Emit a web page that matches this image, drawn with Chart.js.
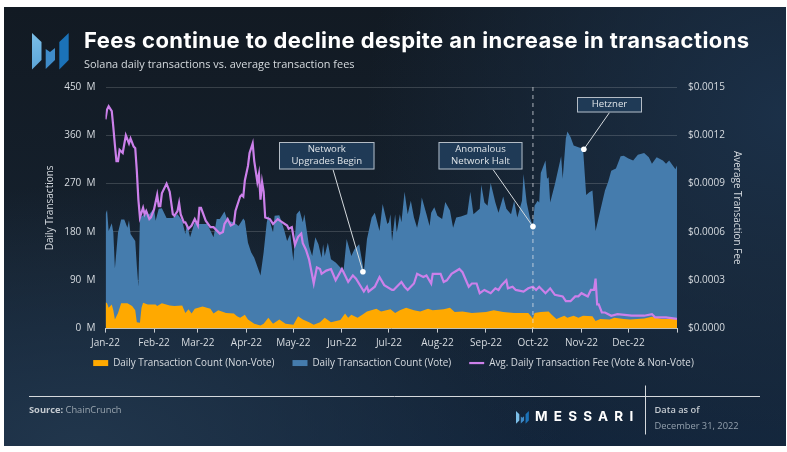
<!DOCTYPE html>
<html><head><meta charset="utf-8">
<script src="https://cdn.jsdelivr.net/npm/chart.js@4"></script>
<style>
html,body{margin:0;padding:0;background:#fff;width:787px;height:452px;overflow:hidden}
#panel{position:absolute;left:4px;top:7px;width:782px;height:439px;
background:radial-gradient(ellipse 480px 260px at 10% 100%,#21364c 0%,rgba(33,54,76,0) 100%),radial-gradient(ellipse 420px 420px at 100% 25%,#1b3048 0%,rgba(27,48,72,0) 100%),linear-gradient(180deg,#121a23 0%,#15212e 60%,#12243a 100%)}
#c{position:absolute;left:0;top:0;width:787px;height:452px}
.t{position:absolute;white-space:nowrap;font-family:"Open Sans",sans-serif}
</style></head><body>
<div id="panel"></div>
<canvas id="c" width="787" height="452"></canvas>
<div class="t" style="left:84px;top:27px;font:700 22px Inter,sans-serif;color:#fff;letter-spacing:.415px">Fees continue to decline despite an increase in transactions</div>
<div class="t" style="left:84px;top:56px;font-size:10.95px;color:#d5dade">Solana daily transactions vs. average transaction fees</div>
<div class="t" style="left:29px;top:403px;font-size:9.3px;color:#9aa5af"><b style="color:#c4cad0">Source:</b> ChainCrunch</div>
<div class="t" style="left:535px;top:408px;font:700 13.5px Inter,sans-serif;color:#fff;letter-spacing:6.2px">MESSARI</div>
<div class="t" style="left:654.5px;top:403px;font-size:9.3px;font-weight:600;color:#c4cad0">Data as of</div>
<div class="t" style="left:654.5px;top:419px;font-size:9.3px;color:#93a0ad">December 31, 2022</div>
<script>
const monthDays=[0,31,59,90,120,151,181,212,243,273,304,334];
const monthLabels=['Jan-22','Feb-22','Mar-22','Apr-22','May-22','Jun-22','Jul-22','Aug-22','Sep-22','Oct-22','Nov-22','Dec-22'];

const voteTopDays=[0,1,2,4,5,6,8,10,12,14,15,16,19,20,21,22,25,28,31,32,34,36,39,43,46,49,51,52,54,57,60,65,69,71,73,76,78,82,85,88,89,91,93,95,99,101,103,104,107,108,111,114,116,118,120,122,124,126,127,130,132,134,136,138,139,140,142,144,147,150,152,154,157,159,162,165,167,170,172,175,177,180,181,182,183,185,186,188,189,191,193,195,197,199,201,202,205,207,208,210,212,215,217,220,222,224,227,231,233,235,239,240,242,244,246,249,251,254,256,259,261,263,266,267,269,271,273,274,276,277,278,281,282,283,284,287,291,292,294,295,297,299,302,305,307,309,311,313,316,319,321,323,326,329,331,334,337,340,344,347,349,352,356,358,360,364,365];
const voteTopValues=[213,221,182,196,179,112,179,203,203,188,202,176,163,117,78,207,213,213,224,201,223,224,206,206,213,201,176,195,170,198,195,195,170,204,204,218,201,198,191,205,201,160,142,132,99,142,198,210,179,210,211,185,163,176,126,213,220,198,213,154,135,170,157,132,157,135,160,129,123,114,107,167,135,148,157,107,167,207,216,182,232,195,198,213,163,213,179,213,198,255,213,238,207,188,216,244,213,191,216,226,210,204,236,220,188,207,209,213,255,213,223,268,235,229,271,235,216,246,223,213,238,207,238,288,235,207,191,229,238,235,290,313,279,282,235,269,321,279,354,367,357,341,338,335,249,254,257,182,220,257,273,294,298,321,322,317,313,324,327,319,307,319,313,307,313,297,304];

const nonVoteDays=[0,1,2,4,5,6,8,10,14,17,19,20,22,23,24,27,32,33,36,41,44,49,51,53,55,57,62,67,69,72,77,82,84,86,89,91,95,99,101,104,107,111,115,120,123,126,130,133,137,140,144,150,153,155,157,161,164,167,173,176,182,185,188,192,197,201,206,209,216,220,223,228,234,243,248,254,261,270,273,274,278,283,285,288,293,295,299,302,305,311,313,316,322,325,331,335,344,349,355,365];
const nonVoteValues=[49,47,39,45,34,17,29,47,47,42,34,12,11,39,48,45,45,42,47,43,42,43,29,36,28,37,41,37,28,34,29,28,23,20,26,17,9,6,9,20,9,17,9,7,23,17,12,7,12,20,12,16,28,20,26,20,26,32,37,32,36,29,34,39,34,32,37,34,36,39,31,32,29,31,34,31,29,29,19,29,31,32,26,18,24,20,24,20,24,23,14,18,17,20,18,17,19,22,18,18];

const feeDays=[0,1,2,4,5,6,7,8,9,11,13,15,16,18,19,20,21,22,24,25,26,28,29,31,33,34,35,36,39,41,43,44,46,47,48,50,51,53,55,57,59,60,61,64,67,69,73,75,76,78,80,82,83,86,87,88,89,91,92,94,95,97,98,99,100,101,102,105,107,110,113,116,117,119,121,123,125,126,128,130,133,135,137,138,141,144,147,151,155,158,160,165,167,168,172,175,178,183,184,186,189,191,193,197,199,203,205,208,209,214,216,218,221,226,228,232,234,237,239,242,246,249,251,253,256,257,260,262,267,270,273,275,277,281,284,287,292,294,297,300,302,304,308,310,312,313,314,315,317,319,323,327,336,344,349,351,358,365];
const feeValues=[.00130,.00136,.00138,.00135,.00125,.00114,.00104,.00104,.00111,.00109,.00120,.00115,.00118,.00113,.00112,.00098,.00080,.00069,.00075,.00071,.00073,.00068,.00069,.00074,.00083,.00076,.00076,.00084,.00090,.00085,.00071,.00070,.00073,.00078,.00071,.00066,.00066,.00062,.00064,.00068,.00064,.00075,.00075,.00067,.00063,.00063,.00059,.00060,.00065,.00068,.00064,.00065,.00073,.00082,.00083,.00082,.00092,.00101,.00109,.00115,.00104,.00091,.00096,.00080,.00091,.00085,.00069,.00068,.00065,.00068,.00066,.00064,.00062,.00063,.00052,.00057,.00059,.00053,.00049,.00043,.00028,.00038,.00037,.00034,.00036,.00037,.00030,.00037,.00029,.00033,.00031,.00023,.00026,.00023,.00026,.00032,.00027,.00024,.00024,.00026,.00029,.00026,.00024,.00028,.00034,.00032,.00033,.00028,.00034,.00034,.00029,.00030,.00034,.00037,.00035,.00026,.00028,.00028,.00022,.00024,.00022,.00025,.00024,.00027,.00030,.00025,.00026,.00024,.00023,.00025,.00026,.00024,.00026,.00022,.00025,.00021,.00020,.00017,.00017,.00020,.00020,.00022,.00020,.00024,.00024,.00031,.00015,.00015,.00010,.00010,.00008,.00009,.00008,.00008,.00009,.00007,.00007,.00006];

const calloutDays=[164.4,273,305.5];
const calloutValues=[106,190,334];
const calloutLabels=[['Network','Upgrades Begin'],['Anomalous','Network Halt'],['Hetzner']];
const haltDay=273;

const zip=(xs,ys)=>xs.map((x,i)=>({x,y:ys[i]}));
const boxes=[{x:279,y:142,w:95.5,h:27.5,lx:333,ly:169.5},{x:438.5,y:142,w:84,h:27.5,lx:493,ly:169.5},{x:577,y:97,w:65,h:15.5,lx:609.5,ly:112.5}];

const poly=(ctx,pts,col)=>{ctx.beginPath();pts.forEach((p,i)=>i?ctx.lineTo(p[0],p[1]):ctx.moveTo(p[0],p[1]));ctx.closePath();ctx.fillStyle=col;ctx.fill();};
const logo=(ctx,x,y,s,cols)=>{
  const T=a=>a.map(p=>[x+p[0]*s,y+p[1]*s]);
  poly(ctx,T([[0,0],[9.5,9],[9.5,27],[0,36.5]]),cols[0]);
  poly(ctx,T([[13.7,16],[18,19],[23,15],[23,27],[13.7,36]]),cols[1]);
  poly(ctx,T([[27.3,9],[36.7,0],[36.7,27],[27.3,36.5]]),cols[2]);
};
const deco={id:'deco',
  afterLayout(ch){ch.legend.top-=13;ch.legend.bottom-=13;},
  beforeDatasetsDraw(ch){
    const c=ch.ctx;c.save();
    const lg=c.createLinearGradient(32,33,41,70);lg.addColorStop(0,'#7cbfe8');lg.addColorStop(1,'#5aa4d8');
    logo(c,32,33,1,[lg,'#3f8bc8','#1b72b8']);
    logo(c,516,411,.35,['#7cbfe8','#3f8bc8','#1b72b8']);
    c.strokeStyle='#d5d9dd';c.lineWidth=1;
    c.beginPath();c.moveTo(29,396.5);c.lineTo(760,396.5);c.moveTo(645.5,385.5);c.lineTo(645.5,434.5);c.stroke();
    c.restore();
  },
  afterDatasetsDraw(ch){
    const c=ch.ctx,x=ch.scales.x,y=ch.scales.y;c.save();
    const hx=x.getPixelForValue(haltDay);
    c.strokeStyle='rgba(225,230,235,.75)';c.lineWidth=1;c.setLineDash([4,4]);
    c.beginPath();c.moveTo(hx,y.top);c.lineTo(hx,y.bottom);c.stroke();c.setLineDash([]);
    calloutDays.forEach((d,i)=>{
      const px=x.getPixelForValue(d),py=y.getPixelForValue(calloutValues[i]),b=boxes[i];
      c.strokeStyle='#d5dade';c.lineWidth=1;c.beginPath();c.moveTo(b.lx,b.ly);c.lineTo(px,py);c.stroke();
      c.fillStyle='#fff';c.beginPath();c.arc(px,py,2.8,0,Math.PI*2);c.fill();
      c.fillStyle='#1f3a56';c.fillRect(b.x,b.y,b.w,b.h);
      c.strokeStyle='#b4bcc5';c.strokeRect(b.x+.5,b.y+.5,b.w-1,b.h-1);
      c.fillStyle='#dfe4e8';c.font='9.6px "Open Sans"';c.textAlign='center';c.textBaseline='middle';
      const ls=calloutLabels[i];
      ls.forEach((t,j)=>c.fillText(t,b.x+b.w/2,b.y+b.h/2+(j-(ls.length-1)/2)*12));
    });
    c.restore();
  }};

const txt='#d6dbe0',gridCol='rgba(255,255,255,.16)',F='"Open Sans"';
new Chart(document.getElementById('c'),{
  type:'line',
  data:{datasets:[
    {label:'Daily Transaction Count (Non-Vote)',data:zip(nonVoteDays,nonVoteValues),yAxisID:'y',order:2,fill:'origin',backgroundColor:'#ffa900',borderColor:'#ffa900',borderWidth:0,pointRadius:0,pointStyle:'rect'},
    {label:'Daily Transaction Count (Vote)',data:zip(voteTopDays,voteTopValues),yAxisID:'y',order:3,fill:'origin',backgroundColor:'#457cad',borderColor:'#457cad',borderWidth:0,pointRadius:0,pointStyle:'rect'},
    {label:'Avg. Daily Transaction Fee (Vote & Non-Vote)',data:zip(feeDays,feeValues),yAxisID:'y1',order:1,fill:false,borderColor:'#cc80ea',backgroundColor:'#cc80ea',borderWidth:2.2,pointRadius:0,pointStyle:'line'}
  ]},
  plugins:[deco],
  options:{
    responsive:false,animation:false,devicePixelRatio:1,
    layout:{padding:{left:44,right:44,top:87,bottom:61}},
    plugins:{
      tooltip:{enabled:false},
      legend:{position:'bottom',labels:{usePointStyle:true,pointStyleWidth:15,boxHeight:6,color:txt,font:{family:F,size:9.9},padding:18,sort:(a,b)=>a.datasetIndex-b.datasetIndex}}
    },
    scales:{
      x:{type:'linear',min:0,max:365,
        afterBuildTicks(a){a.ticks=[...monthDays.map(v=>({value:v})),{value:365}];},
        afterFit(a){a.height=24.5;},
        grid:{drawOnChartArea:false,drawTicks:true,tickLength:4,color:'#c9ced3'},
        border:{color:'#c9ced3'},
        ticks:{autoSkip:false,maxRotation:0,color:txt,font:{family:F,size:10},padding:4.5,
          callback(v){const i=monthDays.indexOf(v);return i<0?'':monthLabels[i];}}},
      y:{position:'left',min:0,max:450,
        afterFit(a){a.width=61.5;},
        grid:{color:gridCol,drawTicks:false},border:{display:false},
        afterBuildTicks(a){a.ticks=[0,90,180,270,360,450].map(v=>({value:v}));},
        ticks:{color:txt,font:{family:F,size:10},padding:10,callback:v=>v+'  M'},
        title:{display:true,text:'Daily Transactions',color:txt,font:{family:F,size:10},padding:{top:0,bottom:0}}},
      y1:{position:'right',min:0,max:.0015,
        afterFit(a){a.width=66;},
        grid:{display:false,drawTicks:false},border:{display:false},
        afterBuildTicks(a){a.ticks=[0,.0003,.0006,.0009,.0012,.0015].map(v=>({value:v}));},
        ticks:{color:txt,font:{family:F,size:10},padding:11,callback:v=>'$'+v.toFixed(4)},
        title:{display:true,text:'Average Transaction Fee',color:txt,font:{family:F,size:10},padding:{top:0,bottom:0}}}
    }
  }
});
</script>
</body></html>
